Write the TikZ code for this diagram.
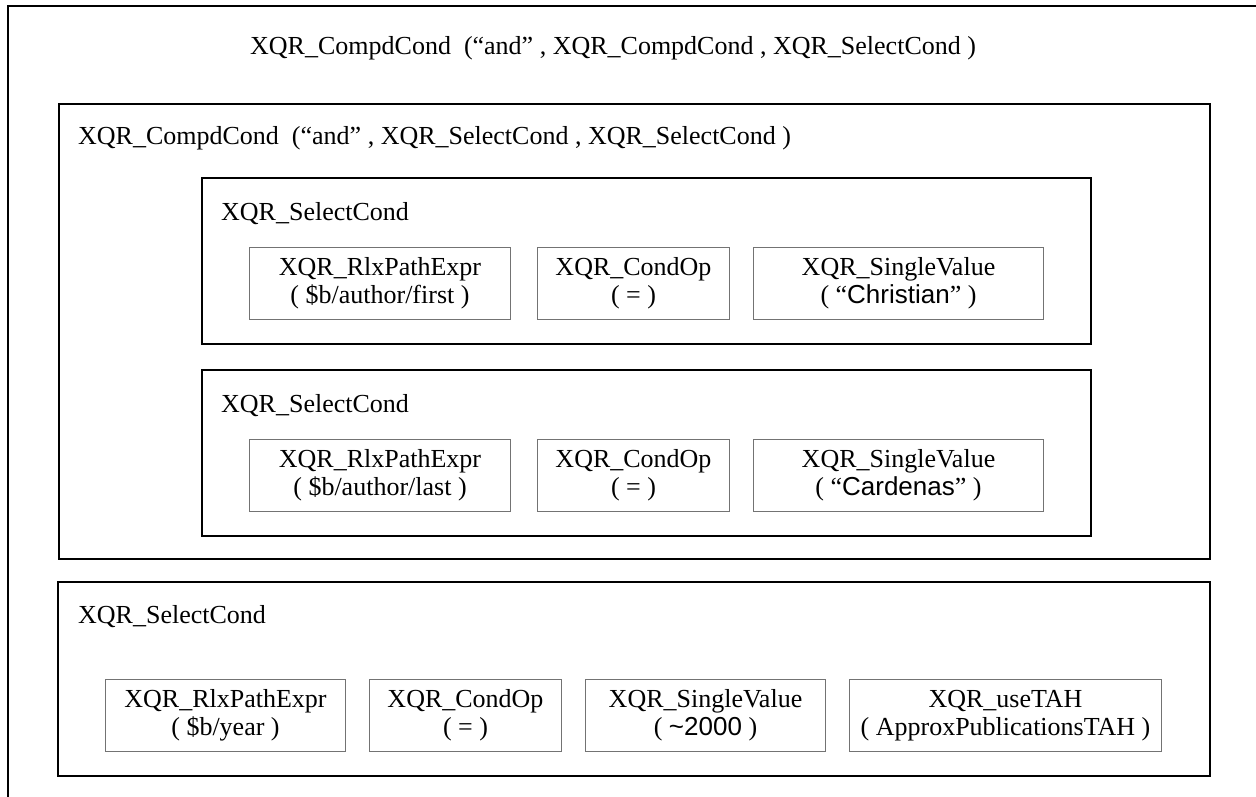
\documentclass[tikz,border=0pt]{standalone}
\usepackage{fontspec}
\setmainfont{Liberation Serif}
\newfontfamily\arialf{Liberation Sans}
\tikzset{
  bigbox/.style={draw=black, line width=2pt, anchor=north west, inner sep=0pt},
  smallbox/.style={draw=black!55, line width=1pt, anchor=north west, align=center, inner sep=0pt,
                   minimum height=72pt, font=\fontsize{26}{28}\selectfont},
  lbl/.style={anchor=base west, inner sep=0pt, font=\fontsize{26}{28}\selectfont},
}
\begin{document}
\begin{tikzpicture}[x=1pt,y=-1pt]
\useasboundingbox (0,0) rectangle (1256,797);
% outer (cut off) box
\coordinate (oa) at (7.5,797);
\coordinate (ob) at (7.5,6);
\coordinate (oc) at (1256,6);
\draw[line width=2pt] (oa) -- (ob) -- (oc);
\node[lbl] (title) at (250,55) {XQR\_CompdCond\ \ (“and” , XQR\_CompdCond , XQR\_SelectCond )};

% compound condition box
\node[bigbox, minimum width=1151.5pt, minimum height=455pt] (cc) at (57.5,103) {};
\node[lbl] (cclbl) at (78,145) {XQR\_CompdCond\ \ (“and” , XQR\_SelectCond , XQR\_SelectCond )};

% select cond 1
\node[bigbox, minimum width=889pt, minimum height=166pt] (sc1) at (201,177) {};
\node[lbl] (sc1lbl) at (221,220) {XQR\_SelectCond};
\node[smallbox, minimum width=261pt] (a1) at (249,247) {XQR\_RlxPathExpr\\( \$b/author/first )};
\node[smallbox, minimum width=192pt] (b1) at (537,247) {XQR\_CondOp\\( = )};
\node[smallbox, minimum width=290pt] (c1) at (753,247) {XQR\_SingleValue\\( “{\arialf Christian}” )};

% select cond 2
\node[bigbox, minimum width=889pt, minimum height=166pt] (sc2) at (201,369) {};
\node[lbl] (sc2lbl) at (221,412) {XQR\_SelectCond};
\node[smallbox, minimum width=261pt] (a2) at (249,439) {XQR\_RlxPathExpr\\( \$b/author/last )};
\node[smallbox, minimum width=192pt] (b2) at (537,439) {XQR\_CondOp\\( = )};
\node[smallbox, minimum width=290pt] (c2) at (753,439) {XQR\_SingleValue\\( “{\arialf Cardenas}” )};

% select cond 3
\node[bigbox, minimum width=1152pt, minimum height=194pt] (sc3) at (57,581) {};
\node[lbl] (sc3lbl) at (78,623) {XQR\_SelectCond};
\node[smallbox, minimum width=240pt] (a3) at (105,679) {XQR\_RlxPathExpr\\( \$b/year )};
\node[smallbox, minimum width=192pt] (b3) at (369,679) {XQR\_CondOp\\( = )};
\node[smallbox, minimum width=240pt] (c3) at (585,679) {XQR\_SingleValue\\( {\arialf\textasciitilde 2000} )};
\node[smallbox, minimum width=312pt] (d3) at (849,679) {XQR\_useTAH\\( ApproxPublicationsTAH )};
\end{tikzpicture}
\end{document}
